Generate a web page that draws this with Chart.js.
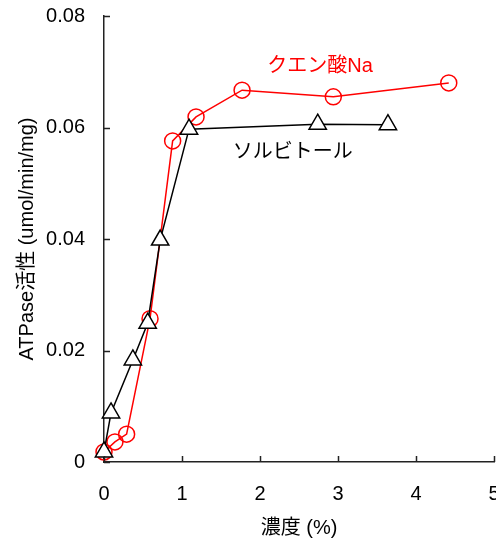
<!DOCTYPE html>
<html>
<head>
<meta charset="utf-8">
<script src="https://cdn.jsdelivr.net/npm/chart.js@4/dist/chart.umd.min.js"></script>
<style>
  html, body { margin: 0; padding: 0; background: #fff; }
  #wrap { width: 496px; height: 540px; }
</style>
</head>
<body>
<div id="wrap"><canvas id="graf"></canvas></div>
<script>
const FONT = "'Liberation Sans', Arial, 'Noto Sans CJK JP', sans-serif";

// データ
const xSorbitol = [0, 0.09, 0.37, 0.56, 0.72, 1.09, 2.74, 3.64];
const ySorbitol = [0.0018, 0.0088, 0.0183, 0.0249, 0.0398, 0.0597, 0.0606, 0.0605];
const xCitrate = [0, 0.14, 0.29, 0.59, 0.88, 1.18, 1.77, 2.94, 4.42];
const yCitrate = [0.0018, 0.0036, 0.0050, 0.0257, 0.0576, 0.0619, 0.0667, 0.0655, 0.0680];
const xTicks = [0, 1, 2, 3, 4, 5];
const yTicks = [0, 0.02, 0.04, 0.06, 0.08];
const yTickLabels = ['0', '0.02', '0.04', '0.06', '0.08'];
const seriesNames = ['ソルビトール', 'クエン酸Na'];
const seriesColors = ['#000000', '#ff0000'];
// series labels, in data units
const labelX = [2.42, 2.77];
const labelY = [0.0556, 0.0710];

const toPts = (xs, ys) => xs.map((x, i) => ({ x, y: ys[i] }));

// inward tick marks + series labels
const extras = {
  id: 'extras',
  afterDraw(chart) {
    const { ctx, chartArea: a, scales: { x, y } } = chart;
    ctx.save();
    ctx.strokeStyle = '#222';
    ctx.lineWidth = 1.5;
    ctx.beginPath();
    xTicks.forEach(v => {
      const px = Math.round(x.getPixelForValue(v)) + 0.5;
      ctx.moveTo(px, a.bottom); ctx.lineTo(px, a.bottom - 6);
    });
    yTicks.forEach(v => {
      const py = Math.round(y.getPixelForValue(v)) + 0.5;
      ctx.moveTo(a.left, py); ctx.lineTo(a.left + 6, py);
    });
    ctx.stroke();
    ctx.font = '20px ' + FONT;
    ctx.textAlign = 'center';
    ctx.textBaseline = 'middle';
    seriesNames.forEach((n, i) => {
      ctx.fillStyle = seriesColors[i];
      ctx.fillText(n, x.getPixelForValue(labelX[i]), y.getPixelForValue(labelY[i]));
    });
    ctx.restore();
  }
};

Chart.defaults.font.family = FONT;
Chart.defaults.color = '#000';

new Chart(document.getElementById('graf'), {
  type: 'scatter',
  data: {
    datasets: [
      {
        label: seriesNames[0],
        data: toPts(xSorbitol, ySorbitol),
        showLine: true,
        borderColor: seriesColors[0],
        borderWidth: 1.5,
        pointStyle: 'triangle',
        pointRadius: 10,
        pointBorderWidth: 1.5,
        pointBackgroundColor: '#fff',
        pointBorderColor: seriesColors[0],
        clip: false
      },
      {
        label: seriesNames[1],
        data: toPts(xCitrate, yCitrate),
        showLine: true,
        borderColor: seriesColors[1],
        borderWidth: 1.5,
        pointStyle: 'circle',
        pointRadius: 8,
        pointBorderWidth: 1.5,
        pointBackgroundColor: 'rgba(0,0,0,0)',
        pointBorderColor: seriesColors[1],
        clip: false
      }
    ]
  },
  options: {
    responsive: true,
    maintainAspectRatio: false,
    animation: false,
    layout: { autoPadding: false, padding: { top: 16, right: 2, bottom: 0, left: 0 } },
    plugins: { legend: { display: false }, tooltip: { enabled: false } },
    scales: {
      x: {
        type: 'linear', min: 0, max: 5,
        afterBuildTicks: s => { s.ticks = xTicks.map(v => ({ value: v })); },
        afterFit: s => { s.height = 78; s.paddingLeft = 0; s.paddingRight = 0; },
        grid: { display: true, drawOnChartArea: false, drawTicks: false },
        border: { display: true, color: '#222', width: 1.5 },
        ticks: { padding: 20, font: { size: 20 }, maxRotation: 0, autoSkip: false },
        title: { display: true, text: '濃度 (%)', font: { size: 20 }, padding: { top: 0, bottom: 0 } }
      },
      y: {
        type: 'linear', min: 0, max: 0.08,
        afterBuildTicks: s => { s.ticks = yTicks.map(v => ({ value: v })); },
        afterFit: s => { s.width = 104; s.paddingTop = 0; s.paddingBottom = 0; },
        grid: { display: true, drawOnChartArea: false, drawTicks: false },
        border: { display: true, color: '#222', width: 1.5 },
        ticks: {
          padding: 19, font: { size: 20 },
          callback: v => yTickLabels[yTicks.indexOf(v)] ?? ''
        },
        title: { display: true, text: 'ATPase活性 (umol/min/mg)', font: { size: 20 }, padding: { top: 15, bottom: 0 } }
      }
    }
  },
  plugins: [extras]
});
</script>
</body>
</html>
